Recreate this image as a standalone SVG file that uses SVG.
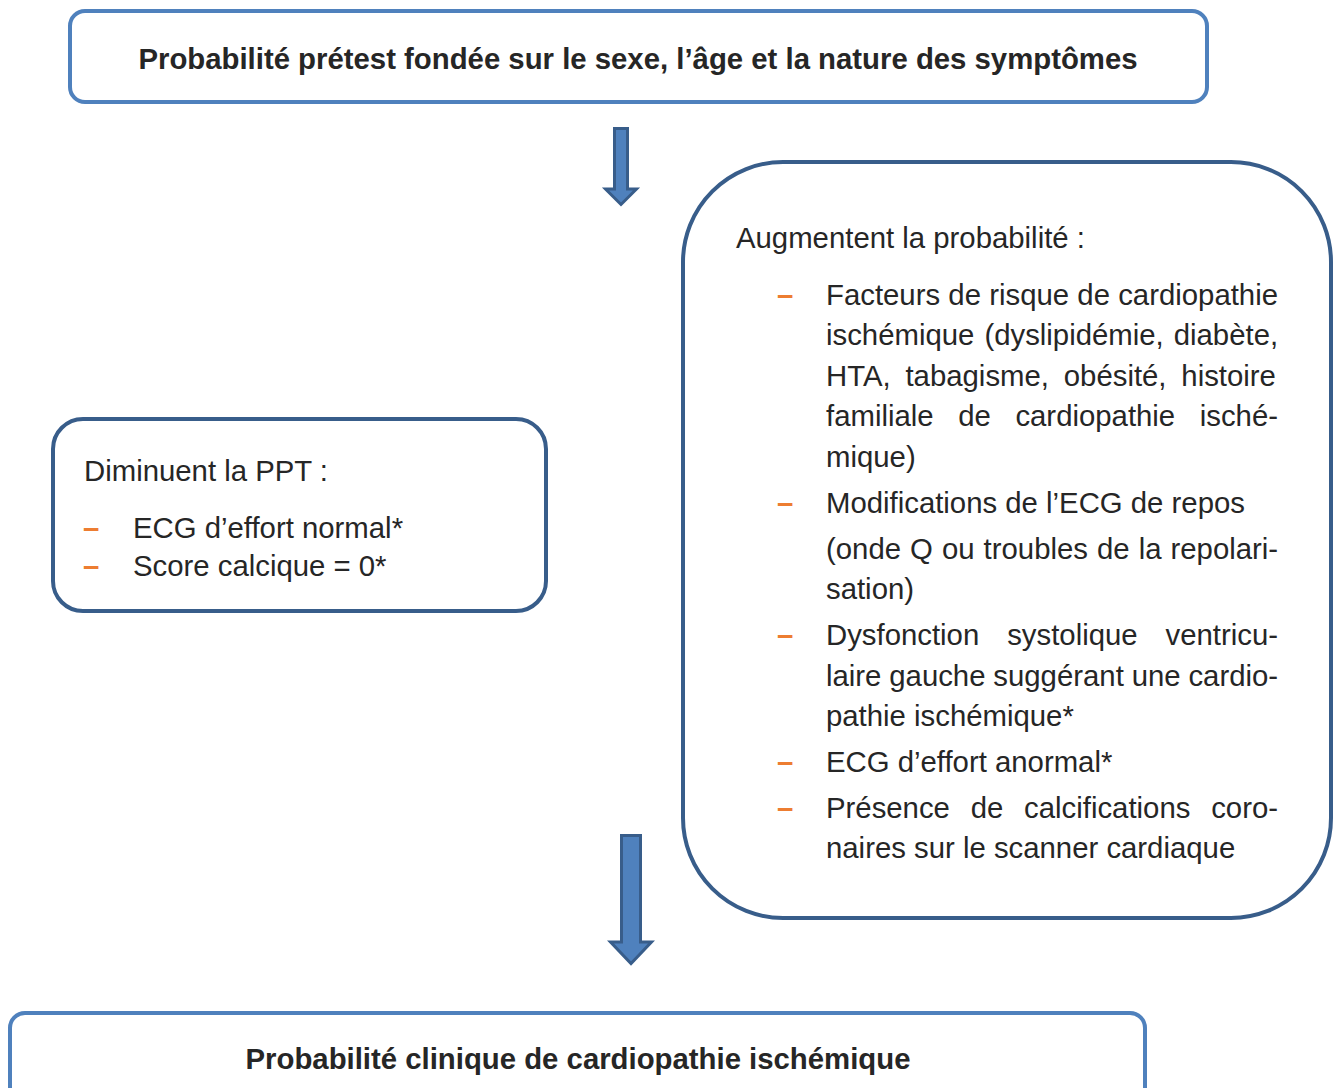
<svg xmlns="http://www.w3.org/2000/svg" width="1341" height="1088" viewBox="0 0 1341 1088">
<style>
.lt{fill:none;stroke:#4F81BD;stroke-width:4}
.dk{fill:none;stroke:#385D8A;stroke-width:4}
.arr{fill:#4F81BD;stroke:#385D8A;stroke-width:3}
text{font-family:"Liberation Sans",Arial,sans-serif;font-size:29.33px;fill:#262626}
.b{font-weight:bold}
.d{fill:#ED7D31;font-weight:bold}
</style>
<rect width="1341" height="1088" fill="#fff"/>
<g id="connectors">
<path class="arr" d="M614.5,128.5 H627.5 V189 H636.5 L621,204.5 L605.5,189 H614.5 Z"/>
<path class="arr" d="M621.5,835.5 H640.5 V942 H651.5 L631,963.5 L610.5,942 H621.5 Z"/>
</g>
<g id="top">
<rect class="lt" x="70" y="11" width="1137" height="91" rx="15"/>
<text class="b" x="638" y="69" text-anchor="middle">Probabilité prétest fondée sur le sexe, l’âge et la nature des symptômes</text>
</g>
<g id="decrease">
<rect class="dk" x="53" y="419" width="493" height="192" rx="30"/>
<text x="84" y="481">Diminuent la PPT :</text>
<text class="d" x="83" y="538">–</text>
<text x="133" y="538">ECG d’effort normal*</text>
<text class="d" x="83" y="576">–</text>
<text x="133" y="576">Score calcique = 0*</text>
</g>
<g id="increase">
<rect class="dk" x="683" y="162" width="648" height="756" rx="100"/>
<text x="736" y="248">Augmentent la probabilité :</text>
<text class="d" x="777" y="305">–</text>
<text x="826" y="305" word-spacing="0.1">Facteurs de risque de cardiopathie</text>
<text x="826" y="345" word-spacing="1.9">ischémique (dyslipidémie, diabète,</text>
<text x="826" y="386" word-spacing="6.7">HTA, tabagisme, obésité, histoire</text>
<text x="826" y="426" word-spacing="16.45">familiale de cardiopathie isché-</text>
<text x="826" y="467">mique)</text>
<text class="d" x="777" y="513">–</text>
<text x="826" y="513">Modifications de l’ECG de repos</text>
<text x="826" y="559" word-spacing="0.9">(onde Q ou troubles de la repolari-</text>
<text x="826" y="599">sation)</text>
<text class="d" x="777" y="645">–</text>
<text x="826" y="645" word-spacing="19.8">Dysfonction systolique ventricu-</text>
<text x="826" y="686" word-spacing="-0.3">laire gauche suggérant une cardio-</text>
<text x="826" y="726">pathie ischémique*</text>
<text class="d" x="777" y="772">–</text>
<text x="826" y="772">ECG d’effort anormal*</text>
<text class="d" x="777" y="818">–</text>
<text x="826" y="818" word-spacing="12.65">Présence de calcifications coro-</text>
<text x="826" y="858">naires sur le scanner cardiaque</text>
</g>
<g id="bottom">
<rect class="lt" x="10" y="1013" width="1135" height="100" rx="15"/>
<text class="b" x="578" y="1069" text-anchor="middle">Probabilité clinique de cardiopathie ischémique</text>
</g>
</svg>
